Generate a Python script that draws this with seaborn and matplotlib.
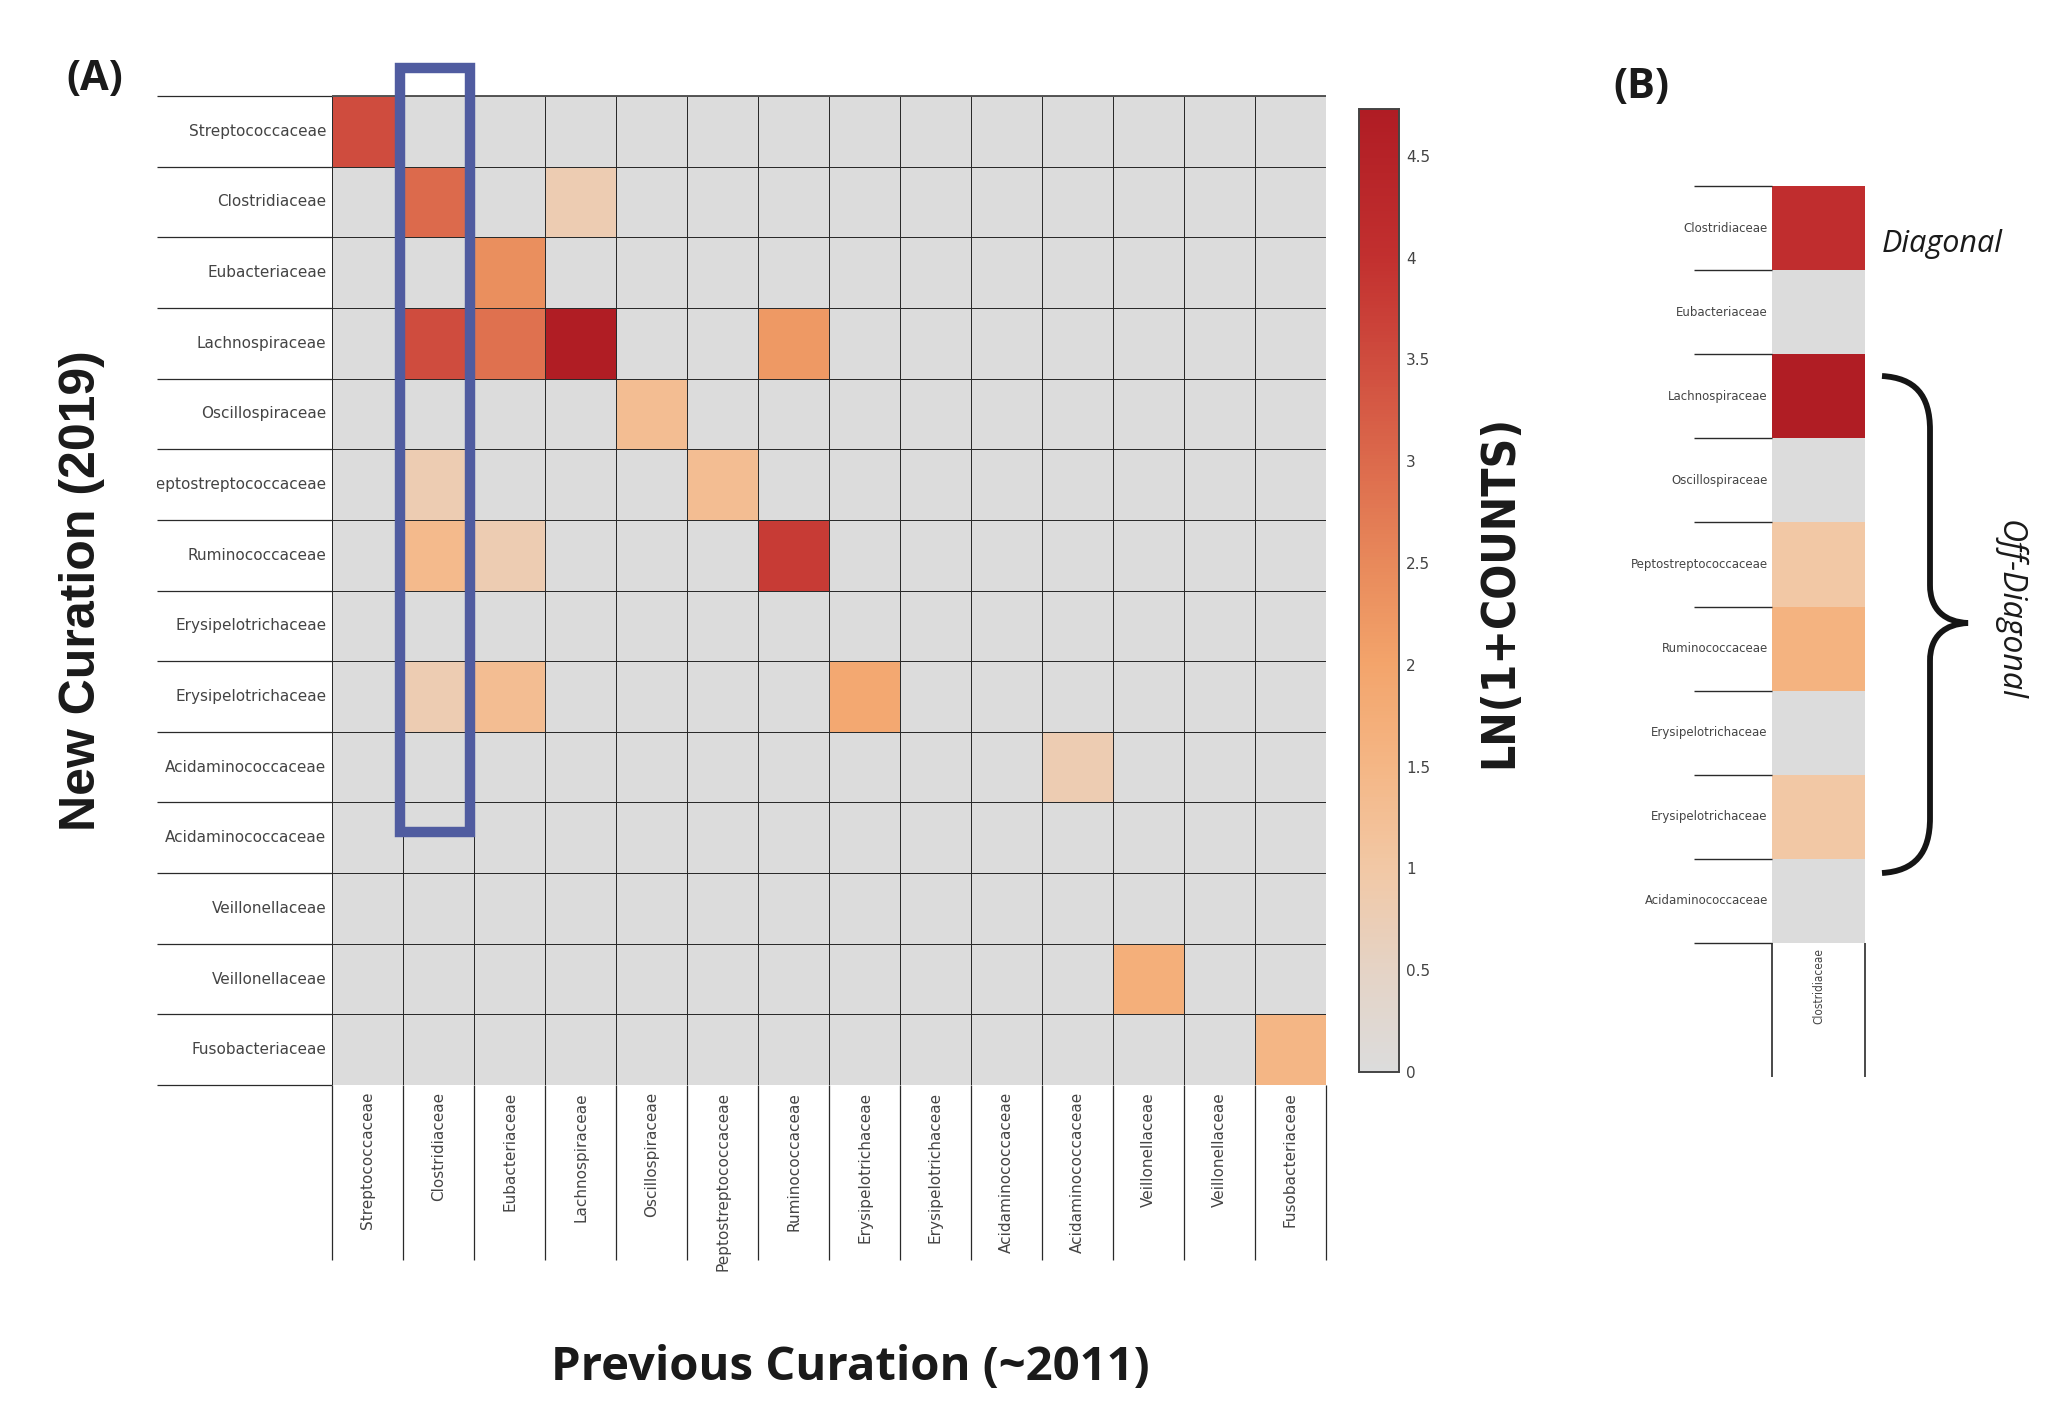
import numpy as np
import matplotlib
matplotlib.use('Agg')
import matplotlib.pyplot as plt
import seaborn as sns
from matplotlib.colors import LinearSegmentedColormap
from matplotlib.patches import Rectangle, PathPatch
from matplotlib.path import Path
from matplotlib.transforms import Bbox, TransformedBbox, blended_transform_factory
from matplotlib.ticker import FuncFormatter

# ---- data ----
families_new = ['Streptococcaceae', 'Clostridiaceae', 'Eubacteriaceae', 'Lachnospiraceae',
                'Oscillospiraceae', 'Peptostreptococcaceae', 'Ruminococcaceae',
                'Erysipelotrichaceae', 'Erysipelotrichaceae', 'Acidaminococcaceae',
                'Acidaminococcaceae', 'Veillonellaceae', 'Veillonellaceae', 'Fusobacteriaceae']
families_prev = list(families_new)

# ln(1+counts), rows = new curation, cols = previous curation
ln_counts_A = [
    [3.5, 0, 0, 0, 0, 0, 0, 0, 0, 0, 0, 0, 0, 0],
    [0, 3.0, 0, 0.8, 0, 0, 0, 0, 0, 0, 0, 0, 0, 0],
    [0, 0, 2.4, 0, 0, 0, 0, 0, 0, 0, 0, 0, 0, 0],
    [0, 3.5, 2.9, 4.7, 0, 0, 2.2, 0, 0, 0, 0, 0, 0, 0],
    [0, 0, 0, 0, 1.3, 0, 0, 0, 0, 0, 0, 0, 0, 0],
    [0, 0.8, 0, 0, 0, 1.3, 0, 0, 0, 0, 0, 0, 0, 0],
    [0, 1.4, 0.8, 0, 0, 0, 3.8, 0, 0, 0, 0, 0, 0, 0],
    [0, 0, 0, 0, 0, 0, 0, 0, 0, 0, 0, 0, 0, 0],
    [0, 0.8, 1.3, 0, 0, 0, 0, 1.9, 0, 0, 0, 0, 0, 0],
    [0, 0, 0, 0, 0, 0, 0, 0, 0, 0, 0.8, 0, 0, 0],
    [0, 0, 0, 0, 0, 0, 0, 0, 0, 0, 0, 0, 0, 0],
    [0, 0, 0, 0, 0, 0, 0, 0, 0, 0, 0, 0, 0, 0],
    [0, 0, 0, 0, 0, 0, 0, 0, 0, 0, 0, 1.7, 0, 0],
    [0, 0, 0, 0, 0, 0, 0, 0, 0, 0, 0, 0, 0, 1.5],
]

families_B = ['Clostridiaceae', 'Eubacteriaceae', 'Lachnospiraceae', 'Oscillospiraceae',
              'Peptostreptococcaceae', 'Ruminococcaceae', 'Erysipelotrichaceae',
              'Erysipelotrichaceae', 'Acidaminococcaceae']
column_B = ['Clostridiaceae']
ln_counts_B = [4.1, 0, 4.7, 0, 1.0, 1.6, 0, 1.0, 0]

cbar_ticks = [0, 0.5, 1, 1.5, 2, 2.5, 3, 3.5, 4, 4.5]
vmax = 4.73

# ---- style ----
W, H = 2067, 1403
fig = plt.figure(figsize=(W / 100, H / 100), dpi=100)
fig.patch.set_facecolor('white')

def px_rect(x0, y0, x1, y1):
    # pixel box (y down) -> figure fraction rect
    return [x0 / W, 1 - y1 / H, (x1 - x0) / W, (y1 - y0) / H]

def fx(x):
    return x / W

def fy(y):
    return 1 - y / H

cmap = LinearSegmentedColormap.from_list('greyred', [
    (0 / vmax, '#dcdcdc'), (0.5 / vmax, '#e5d3c5'), (1.0 / vmax, '#f2c8a5'),
    (1.5 / vmax, '#f4b685'), (2.0 / vmax, '#f3a46b'), (2.5 / vmax, '#e8895b'),
    (3.0 / vmax, '#dc6a4c'), (3.5 / vmax, '#cf4c3e'), (4.0 / vmax, '#c2302f'),
    (1.0, '#b01c24')])

tick_col = '#444444'
line_col = '#2a2a2a'

# ---- panel A ----
axA = fig.add_axes(px_rect(332, 96, 1326, 1085))
cax = fig.add_axes(px_rect(1359, 109, 1399, 1072))
sns.heatmap(np.array(ln_counts_A), ax=axA, cbar_ax=cax, cmap=cmap, vmin=0, vmax=vmax,
            xticklabels=families_prev, yticklabels=families_new,
            linewidths=0.7, linecolor=line_col,
            cbar_kws={'ticks': cbar_ticks})
axA.tick_params(axis='both', length=0, colors=tick_col)
axA.tick_params(axis='y', labelsize=11, pad=4)
axA.tick_params(axis='x', labelsize=11, pad=5)
plt.setp(axA.get_yticklabels(), rotation=0)
plt.setp(axA.get_xticklabels(), rotation=90)

# clip long row labels at the left edge of the label column
clip = TransformedBbox(Bbox([[157 / W, 0], [1, 1]]), fig.transFigure)
for lab in axA.get_yticklabels():
    lab.set_clip_on(True)
    lab.set_clip_box(clip)

n = len(families_new)
row_h = (1085 - 96) / n
# row separators in label area
trA = blended_transform_factory(axA.transAxes, axA.transData)
left_frac = -(332 - 157) / (1326 - 332)
axA.hlines(np.arange(n + 1), left_frac, 0, transform=trA, colors=line_col, lw=0.9, clip_on=False)
# column separators in label area
axA.vlines(np.arange(n + 1), n, n + (1260 - 1085) / row_h, colors=line_col, lw=0.9, clip_on=False)
axA.hlines(0, 0, n, colors='#555555', lw=1.4, clip_on=False)

# highlight of the Clostridiaceae column
col_w = (1326 - 332) / n
rx0 = (400 - 332) / col_w
rx1 = (470 - 332) / col_w
ry0 = (68 - 96) / row_h
ry1 = (832 - 96) / row_h
axA.add_patch(Rectangle((rx0, ry0), rx1 - rx0, ry1 - ry0, fill=False,
                        edgecolor='#505ca0', lw=7.5, clip_on=False, zorder=5))

# colorbar
cax.tick_params(length=0, labelsize=11, colors=tick_col, pad=5)
cax.yaxis.set_major_formatter(FuncFormatter(lambda v, p: '{:g}'.format(v)))
for s in cax.spines.values():
    s.set_visible(True)
    s.set_edgecolor('#444444')
    s.set_linewidth(1.2)

# ---- panel B ----
axB = fig.add_axes(px_rect(1772, 186, 1865, 943))
sns.heatmap(np.array(ln_counts_B).reshape(-1, 1), ax=axB, cbar=False, cmap=cmap,
            vmin=0, vmax=vmax, xticklabels=column_B, yticklabels=families_B)
axB.tick_params(axis='both', length=0, colors=tick_col)
axB.tick_params(axis='y', labelsize=8.5, pad=3)
plt.setp(axB.get_yticklabels(), rotation=0)
plt.setp(axB.get_xticklabels(), rotation=90, fontsize=8.5, family='DejaVu Sans', stretch='condensed')
m = len(families_B)
rowB_h = (943 - 186) / m
trB = blended_transform_factory(axB.transAxes, axB.transData)
axB.hlines(np.arange(m + 1), -(1772 - 1694) / (1865 - 1772), 0, transform=trB,
           colors=line_col, lw=1.0, clip_on=False)
axB.vlines([0, 1], m, m + (1077 - 943) / rowB_h, colors=line_col, lw=1.2, clip_on=False)

# ---- brace ----
pts = [(1882, 376), (1915, 378), (1930, 395), (1930, 430), (1930, 585),
       (1930, 610), (1945, 622), (1968, 623),
       (1945, 624), (1930, 636), (1930, 661), (1930, 818),
       (1930, 853), (1915, 871), (1882, 873)]
codes = [Path.MOVETO, Path.CURVE4, Path.CURVE4, Path.CURVE4, Path.LINETO,
         Path.CURVE4, Path.CURVE4, Path.CURVE4,
         Path.CURVE4, Path.CURVE4, Path.CURVE4, Path.LINETO,
         Path.CURVE4, Path.CURVE4, Path.CURVE4]
brace = Path([(fx(x), fy(y)) for x, y in pts], codes)
fig.add_artist(PathPatch(brace, transform=fig.transFigure, fill=False,
                         edgecolor='#151515', lw=4.2, capstyle='butt'))

# ---- texts ----
fig.text(fx(95), fy(80), '(A)', fontsize=30, fontweight='bold', family='Open Sans',
         ha='center', va='center', color='#1a1a1a')
fig.text(fx(1641), fy(87), '(B)', fontsize=30, fontweight='bold', family='Open Sans',
         ha='center', va='center', color='#1a1a1a')
fig.text(fx(82), fy(591), 'New Curation (2019)', rotation=90, fontsize=36, fontweight='bold',
         family='Liberation Sans', ha='center', va='center', color='#1a1a1a')
fig.text(fx(850), fy(1368), 'Previous Curation (~2011)', fontsize=34, fontweight='bold',
         family='Open Sans', ha='center', va='center', color='#1a1a1a')
fig.text(fx(1500), fy(591), 'LN(1+COUNTS)', rotation=90, fontsize=33, fontweight='bold',
         family='DejaVu Sans', stretch='condensed', ha='center', va='center', color='#1a1a1a')
fig.text(fx(1882), fy(244), 'Diagonal', fontsize=22, style='italic', family='Open Sans',
         ha='left', va='center', color='#1a1a1a')
fig.text(fx(2009), fy(610), 'Off-Diagonal', rotation=270, fontsize=23, style='italic',
         family='Open Sans', ha='center', va='center', color='#1a1a1a')

plt.savefig('out.png', dpi=100, facecolor='white')
plt.close()
